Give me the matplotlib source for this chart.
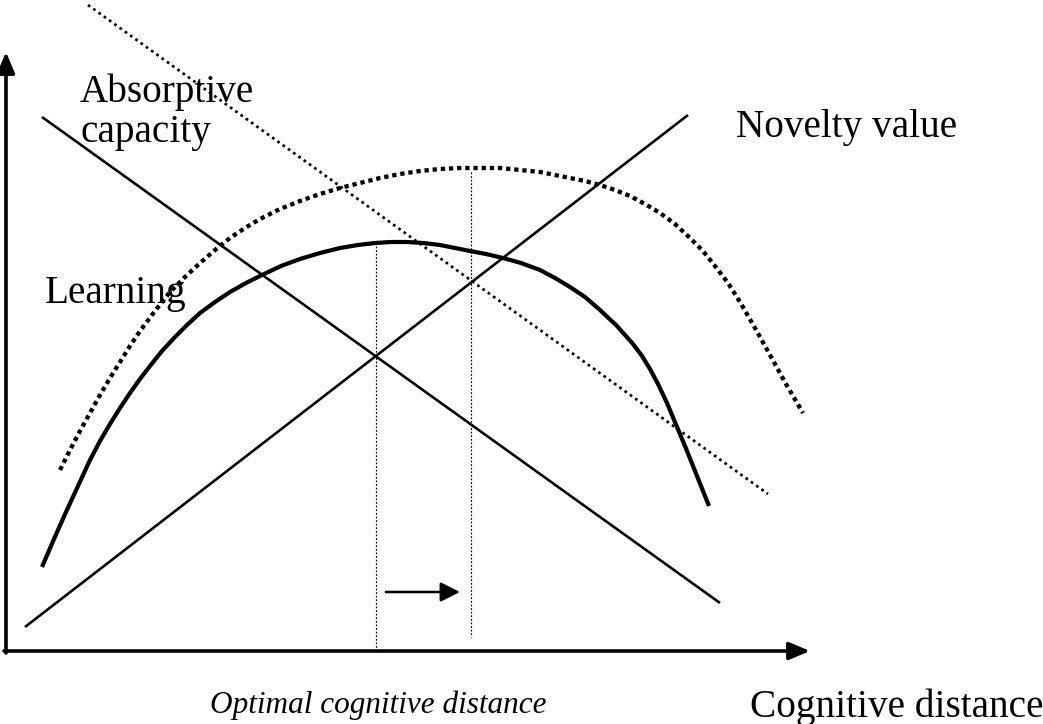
import matplotlib
matplotlib.use("Agg")
import matplotlib.pyplot as plt

# ---- data (in picture units: x right, y down) ----
absorptive_x = [42, 720]
absorptive_y = [117, 603]

novelty_x = [25, 688]
novelty_y = [627, 115]

shifted_absorptive_x = [88, 768]
shifted_absorptive_y = [5, 494]

learning_x = [42, 54, 66, 78, 90, 100, 110, 120, 130, 140, 150, 162, 175, 187, 200, 215, 230, 246, 262,
              281, 300, 320, 340, 358, 375, 391, 407, 423, 440, 455, 470, 486, 503, 521, 540, 555, 570,
              585, 600, 617, 633, 642, 650, 658, 667, 677, 685, 693, 701, 709]
learning_y = [567, 539, 512, 486, 460, 441, 424, 408, 393, 379, 366, 351, 337, 325, 313, 302, 292, 283, 275,
              266, 259, 253, 248, 245, 243, 242, 242, 243, 245, 248, 251, 254, 258, 263, 270, 278, 287,
              297, 310, 326, 344, 356, 369, 384, 403, 427, 446, 466, 486, 506]

shifted_learning_x = [60, 70, 80, 90, 100, 110, 120, 130, 140, 155, 170, 185, 200, 215, 230, 245, 260, 280,
                      300, 320, 340, 360, 380, 400, 420, 440, 460, 480, 500, 520, 540, 555, 570, 585, 600,
                      615, 630, 645, 660, 675, 690, 703, 715, 728, 740, 755, 770, 786, 803]
shifted_learning_y = [470, 450, 431, 413, 395, 378, 362, 346, 331, 311, 292, 277, 263, 250, 238, 228, 219, 209,
                      201, 194, 188, 183, 178, 174, 171, 169, 168, 168, 168, 170, 172, 175, 178, 181, 185,
                      190, 196, 204, 213, 224, 238, 251, 266, 283, 302, 328, 355, 384, 413]

optimal_x = [376, 376]
optimal_y = [246, 651]
shifted_optimal_x = [471, 471]
shifted_optimal_y = [172, 637]

shift_arrow_x = [386, 460]
shift_arrow_y = [592, 592]

labels = ["Absorptive", "capacity", "Novelty value", "Learning",
          "Optimal cognitive distance", "Cognitive distance"]

# ---- figure ----
fig = plt.figure(figsize=(10.43, 7.24), dpi=100)
ax = fig.add_axes([0, 0, 1, 1])
ax.set_xlim(0, 1043)
ax.set_ylim(724, 0)
ax.axis("off")

px = 72.0 / 100.0  # points per pixel

# axes arrows
ax.annotate("", xy=(6, 52), xytext=(6, 653),
            arrowprops=dict(arrowstyle="-|>,head_length=0.9,head_width=0.38",
                            lw=3.6 * px, color="black", shrinkA=0, shrinkB=0,
                            mutation_scale=14))
ax.annotate("", xy=(810, 651), xytext=(4, 651),
            arrowprops=dict(arrowstyle="-|>,head_length=0.9,head_width=0.38",
                            lw=3.6 * px, color="black", shrinkA=0, shrinkB=0,
                            mutation_scale=14))

# straight lines
ax.plot(absorptive_x, absorptive_y, color="black", lw=2.6 * px, solid_capstyle="butt")
ax.plot(novelty_x, novelty_y, color="black", lw=2.6 * px, solid_capstyle="butt")
ax.plot(shifted_absorptive_x, shifted_absorptive_y, color="black", lw=2.7 * px,
        linestyle=(0, (1, 1.4)), dash_capstyle="butt")

# learning curves
ax.plot(learning_x, learning_y, color="black", lw=4.2 * px,
        solid_joinstyle="round", solid_capstyle="butt")
ax.plot(shifted_learning_x, shifted_learning_y, color="black", lw=4.3 * px,
        linestyle=(0, (1, 0.9)), dash_capstyle="butt")

# vertical guide lines
ax.plot(optimal_x, optimal_y, color="black", lw=1.2 * px, linestyle=(0, (1.5, 1.5)))
ax.plot(shifted_optimal_x, shifted_optimal_y, color="black", lw=1.2 * px, linestyle=(0, (1.5, 1.5)))

# shift arrow
ax.annotate("", xy=(shift_arrow_x[1], shift_arrow_y[1]),
            xytext=(shift_arrow_x[0], shift_arrow_y[0]),
            arrowprops=dict(arrowstyle="-|>,head_length=0.9,head_width=0.45",
                            lw=2.6 * px, color="black", shrinkA=0, shrinkB=0,
                            mutation_scale=13))

# texts
serif = "Liberation Serif"
fs = 28.3
ax.text(80, 102, labels[0], fontsize=fs, family=serif, ha="left", va="baseline")
ax.text(81, 142, labels[1], fontsize=fs, family=serif, ha="left", va="baseline")
ax.text(736, 137, labels[2], fontsize=fs, family=serif, ha="left", va="baseline")
ax.text(45, 303, labels[3], fontsize=fs, family=serif, ha="left", va="baseline")
ax.text(210, 713, labels[4], fontsize=22.5, family=serif, style="italic",
        ha="left", va="baseline")
ax.text(750, 717, labels[5], fontsize=fs, family=serif, ha="left", va="baseline")

fig.savefig("out.png", dpi=100, facecolor="white")
